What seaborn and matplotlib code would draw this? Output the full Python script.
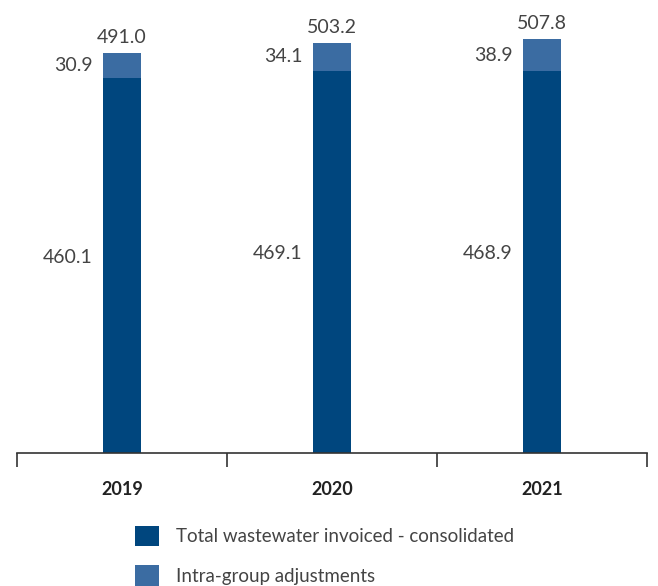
import matplotlib
matplotlib.use("Agg")
import matplotlib.pyplot as plt
import seaborn as sns
import pandas as pd
from matplotlib.patches import Patch

years = ["2019", "2020", "2021"]
consolidated = [460.1, 469.1, 468.9]
intra_group = [30.9, 34.1, 38.9]
totals = [491.0, 503.2, 507.8]
series_names = ["Total wastewater invoiced - consolidated", "Intra-group adjustments"]

dark = "#00467E"
light = "#3B6CA2"
txt = "#444444"

sns.set_theme(style="white")
plt.rcParams["font.family"] = ["Lato", "DejaVu Sans"]

df = pd.DataFrame({"year": years, "consolidated": consolidated,
                   "intra": intra_group, "total": totals})

fig = plt.figure(figsize=(6.58, 5.86), dpi=100)
ax = fig.add_axes([17/658, (586-453)/586, 630/658, 453/586])

sns.barplot(data=df, x="year", y="total", color=light, saturation=1,
            width=0.18, ax=ax, linewidth=0)
sns.barplot(data=df, x="year", y="consolidated", color=dark, saturation=1,
            width=0.18, ax=ax, linewidth=0)

ax.set_xlim(-0.5, 2.5)
ax.set_ylim(0, 556)
ax.set_xlabel("")
ax.set_ylabel("")
ax.set_yticks([])
for s in ["top", "right", "left"]:
    ax.spines[s].set_visible(False)
ax.spines["bottom"].set_color("#333333")
ax.spines["bottom"].set_linewidth(1.2)

ax.set_xticks([-0.5, 0.5, 1.5, 2.5], minor=False)
ax.set_xticklabels([])
ax.tick_params(axis="x", which="major", direction="out", length=10, width=1.2,
               color="#333333", bottom=True)
ax.set_xticks([0, 1, 2], minor=True)
ax.set_xticklabels(years, minor=True, fontsize=13, fontweight="bold", color="#222222")
ax.tick_params(axis="x", which="minor", length=0, pad=20)

hw = 0.09
for i in range(3):
    ax.text(i, totals[i] + 9, f"{totals[i]:.1f}", ha="center", va="bottom",
            fontsize=14, color=txt)
    ax.text(i - hw - 0.05, consolidated[i] + intra_group[i] / 2, f"{intra_group[i]:.1f}",
            ha="right", va="center", fontsize=14, color=txt)
    ax.text(i - hw - 0.05, consolidated[i] / 2 + 10, f"{consolidated[i]:.1f}",
            ha="right", va="center", fontsize=14, color=txt)

handles = [Patch(facecolor=dark, edgecolor="none"), Patch(facecolor=light, edgecolor="none")]
fig.legend(handles, series_names, loc="upper left", bbox_to_anchor=(118/658, 1 - 509/586),
           frameon=False, fontsize=13.5, handlelength=1.3, handleheight=1.3,
           labelspacing=1.0, handletextpad=0.9, labelcolor=txt)

fig.savefig("out.png", dpi=100)
